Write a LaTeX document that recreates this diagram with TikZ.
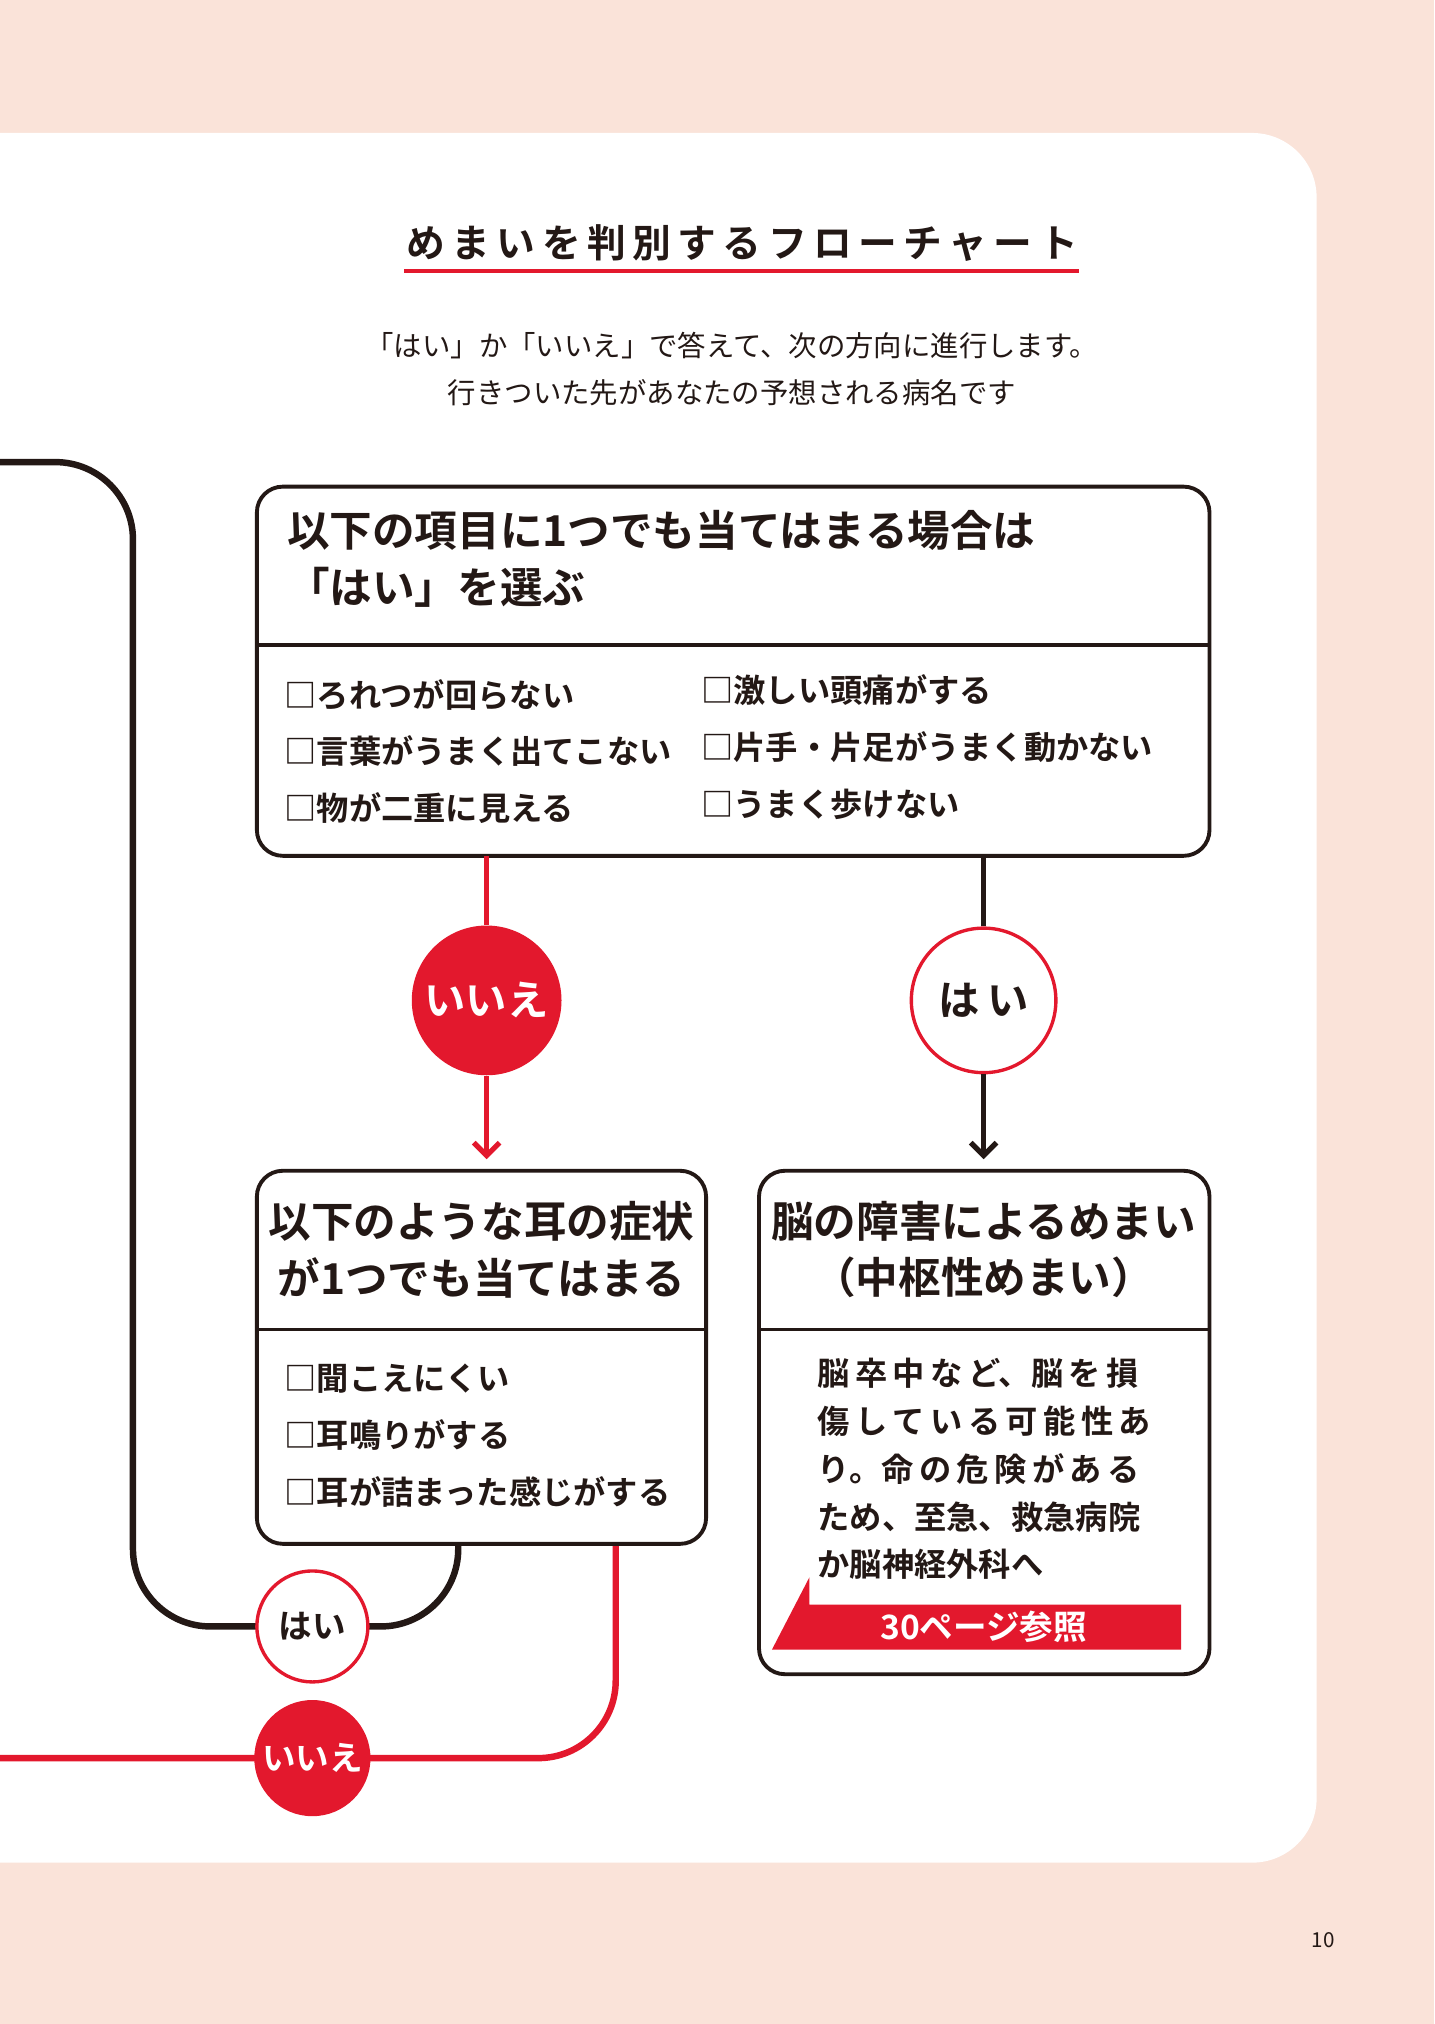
\documentclass[tikz,border=0pt]{standalone}
\usepackage{fontspec}
\setmainfont{Noto Sans CJK JP}
\newfontfamily\jpb{Noto Sans CJK JP Bold}
\usetikzlibrary{arrows.meta}
\definecolor{peach}{HTML}{FAE3D9}
\definecolor{myred}{HTML}{E3182D}
\definecolor{ink}{HTML}{231815}
\tikzset{
 box/.style={draw=ink,line width=1.5pt,rounded corners=10pt},
 hd/.style={font=\jpb\fontsize{16.5}{22}\selectfont,text=ink,align=left},
 item/.style={font=\jpb\fontsize{12.5}{15}\selectfont,text=ink,anchor=west,inner sep=0},
 redc/.style={circle,fill=myred,text=white,font=\jpb\fontsize{16}{18}\selectfont,inner sep=0},
 whc/.style={circle,draw=myred,line width=1.3pt,fill=white,text=ink,font=\jpb\fontsize{16}{18}\selectfont,inner sep=0},
 blk/.style={draw=ink,line width=2.5pt},
 rl/.style={draw=myred,line width=2.5pt},
}
\begin{document}
\begin{tikzpicture}[x=0.5pt,y=-0.5pt]
\fill[peach] (0,0) rectangle (1111,1568);
\useasboundingbox (0,0) rectangle (1111,1568);
\fill[white,rounded corners=25pt] (-60,103) -- (1020,103) -- (1020,1443) -- (-60,1443) -- cycle;
% title
\node[font=\jpb\fontsize{15}{18}\selectfont,text=ink] (title) at (575,188) {め\,ま\,い\,を\,判\,別\,す\,る\,フ\,ロ\,ー\,チ\,ャ\,ー\,ト};
\draw[myred,line width=1.5pt] (313,210) -- (836,210);
\node[font=\fontsize{11}{18.5}\selectfont,text=ink,align=center] (sub) at (567,286) {「はい」か「いいえ」で答えて、次の方向に進行します。\\行きついた先があなたの予想される病名です};
% paths behind
\draw[blk,rounded corners=30pt] (355,1196) -- (355,1260) -- (103,1260) -- (103,358) -- (-5,358);
\draw[rl,rounded corners=30pt] (477,1196) -- (477,1362) -- (-5,1362);
% box1
\draw[box,fill=white] (199,377) rectangle (937,663);
\draw[ink,line width=1.5pt] (199,500) -- (937,500);
\node[hd,anchor=north west,inner sep=0] (h1) at (222,395) {以下の項目に1つでも当てはまる場合は\\「はい」を選ぶ};
\node[item] (a1) at (220,538) {□ろれつが回らない};
\node[item] (a2) at (220,582) {□言葉がうまく出てこない};
\node[item] (a3) at (220,626) {□物が二重に見える};
\node[item] (b1) at (543,535) {□激しい頭痛がする};
\node[item] (b2) at (543,579) {□片手・片足がうまく動かない};
\node[item] (b3) at (543,623) {□うまく歩けない};
\coordinate (o1) at (377,663);
\coordinate (o2) at (762,663);
\node[redc,minimum size=58pt] (no1) at (377,775) {いいえ};
\node[whc,minimum size=56pt] (yes1) at (762,775) {は\,い};
\coordinate (t1) at (377,898);
\coordinate (t2) at (762,898);
\draw[rl,line width=2pt] (o1) -- (no1);
\draw[rl,line width=2pt,-{Straight Barb[length=5pt,width=10pt]}] (no1) -- (t1);
\draw[blk,line width=2pt] (o2) -- (yes1);
\draw[blk,line width=2pt,-{Straight Barb[length=5pt,width=10pt]}] (yes1) -- (t2);
% box2
\draw[box,fill=white] (199,907) rectangle (547,1196);
\draw[ink,line width=1.5pt] (199,1030) -- (547,1030);
\node[hd,align=center] (h2) at (373,968) {以下のような耳の症状\\が1つでも当てはまる};
\node[item] (c1) at (220,1068) {□聞こえにくい};
\node[item] (c2) at (220,1112) {□耳鳴りがする};
\node[item] (c3) at (220,1156) {□耳が詰まった感じがする};
% box3
\draw[box,fill=white] (588,907) rectangle (937,1297);
\draw[ink,line width=1.5pt] (588,1030) -- (937,1030);
\node[hd,align=center] (h3) at (762,968) {脳の障害によるめまい\\（中枢性めまい）};
\node[font=\jpb\fontsize{12.5}{18.5}\selectfont,text=ink,align=left,anchor=north west,inner sep=0] (body) at (633,1052) {脳\,卒\,中\,な\,ど、脳\,を\,損\\傷\,し\,て\,い\,る\,可\,能\,性\,あ\\り。命\,の\,危\,険\,が\,あ\,る\\ため、至急、救急病院\\か脳神経外科へ};
\fill[myred] (598,1278) -- (627,1222) -- (627,1243) -- (915,1243) -- (915,1278) -- cycle;
\node[font=\jpb\fontsize{13}{15}\selectfont,text=white] (ref) at (762,1260) {30ページ参照};
% lower circles
\node[whc,minimum size=43pt,font=\jpb\fontsize{13}{15}\selectfont] (yes2) at (242,1260) {はい};
\node[redc,minimum size=45pt,font=\jpb\fontsize{13}{15}\selectfont] (no2) at (242,1362) {いいえ};
\node[font=\fontsize{8}{10}\selectfont,text=ink] (pg) at (1025,1503) {10};
\end{tikzpicture}
\end{document}
